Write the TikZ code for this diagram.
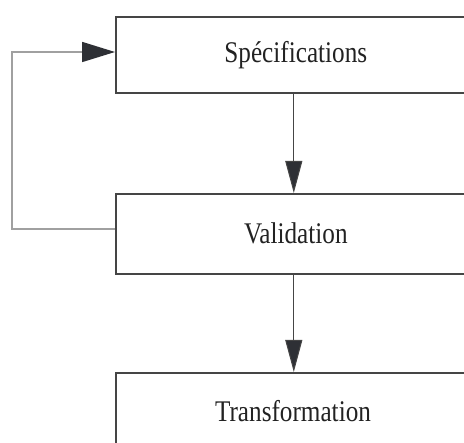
\documentclass[tikz,border=0pt]{standalone}
\usepackage{fontspec}
\setmainfont{Liberation Serif}
\usetikzlibrary{arrows.meta}
\definecolor{boxline}{HTML}{454545}
\definecolor{fbline}{HTML}{A0A0A0}
\definecolor{headcol}{HTML}{2E3035}
\definecolor{txtcol}{HTML}{222222}
\begin{document}
\begin{tikzpicture}[x=1pt,y=-1pt,
  stagebox/.style={draw=boxline,line width=1.6pt,minimum width=360pt,anchor=north west,inner sep=0pt,text=txtcol,
    font=\fontsize{30}{36}\selectfont},
  flow/.style={draw=boxline,line width=1pt,-{Triangle[length=32pt,width=17pt,fill=headcol]}},
  feedback/.style={draw=fbline,line width=1.6pt,-{Triangle[length=33pt,width=20pt,color=headcol,fill=headcol]}}]
\useasboundingbox (0,0) rectangle (464,443);
\clip (0,0) rectangle (464,443);
\node[stagebox,minimum height=76pt] (spec) at (115,16) {\scalebox{0.84}[1]{Spécifications}};
\node[stagebox,minimum height=80pt] (val) at (115,193) {\scalebox{0.84}[1]{Validation}};
\node[stagebox,minimum height=90pt] (trans) at (115,372) {};
\node[text=txtcol,font=\fontsize{30}{36}\selectfont] (translabel) at (293,411) {\scalebox{0.84}[1]{Transformation}};
\coordinate (fbin) at (115,229);
\coordinate (fbout) at (115,52);
\draw[flow] ([xshift=-2pt]spec.south) -- ([xshift=-2pt]val.north);
\draw[flow] ([xshift=-2pt]val.south) -- ([xshift=-2pt]trans.north);
\draw[feedback] (fbin) -- (12,229) -- (12,52) -- (fbout);
\end{tikzpicture}
\end{document}
